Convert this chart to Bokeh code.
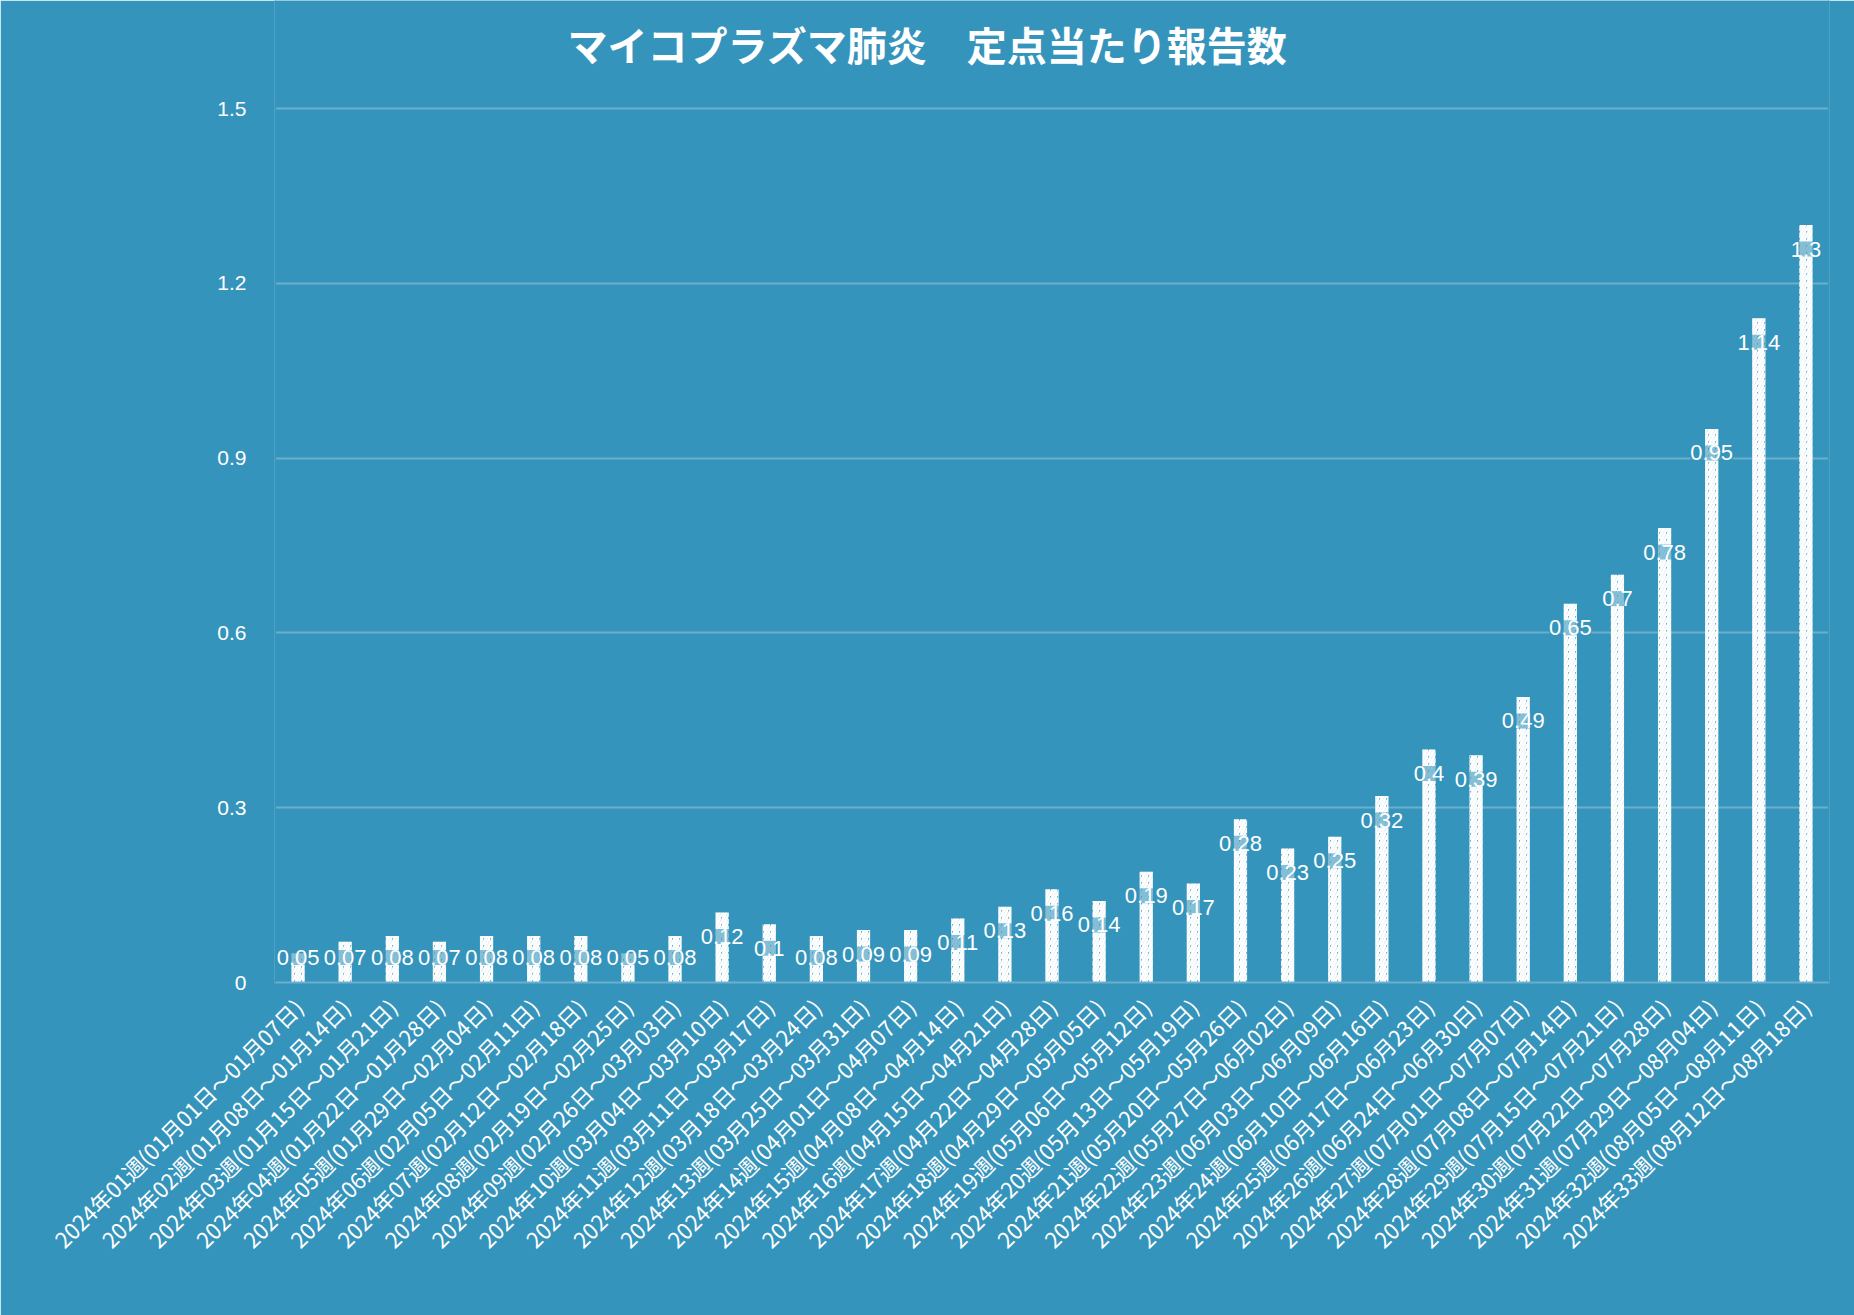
import math
from bokeh.plotting import figure
from bokeh.models import ColumnDataSource, LabelSet, Label, FixedTicker, Range1d, Span
from bokeh.core.properties import value
from bokeh.embed import file_html
from bokeh.resources import INLINE

weeks = [f"{i:02d}" for i in range(1, 34)]
starts = ["01月01日", "01月08日", "01月15日", "01月22日", "01月29日", "02月05日", "02月12日",
          "02月19日", "02月26日", "03月04日", "03月11日", "03月18日", "03月25日", "04月01日",
          "04月08日", "04月15日", "04月22日", "04月29日", "05月06日", "05月13日", "05月20日",
          "05月27日", "06月03日", "06月10日", "06月17日", "06月24日", "07月01日", "07月08日",
          "07月15日", "07月22日", "07月29日", "08月05日", "08月12日"]
ends = ["01月07日", "01月14日", "01月21日", "01月28日", "02月04日", "02月11日", "02月18日",
        "02月25日", "03月03日", "03月10日", "03月17日", "03月24日", "03月31日", "04月07日",
        "04月14日", "04月21日", "04月28日", "05月05日", "05月12日", "05月19日", "05月26日",
        "06月02日", "06月09日", "06月16日", "06月23日", "06月30日", "07月07日", "07月14日",
        "07月21日", "07月28日", "08月04日", "08月11日", "08月18日"]
categories = [f"2024年{w}週({s}～{e})" for w, s, e in zip(weeks, starts, ends)]
values = [0.05, 0.07, 0.08, 0.07, 0.08, 0.08, 0.08, 0.05, 0.08, 0.12, 0.1, 0.08, 0.09,
          0.09, 0.11, 0.13, 0.16, 0.14, 0.19, 0.17, 0.28, 0.23, 0.25, 0.32, 0.4, 0.39,
          0.49, 0.65, 0.7, 0.78, 0.95, 1.14, 1.3]
value_labels = [f"{v:g}" for v in values]
y_ticks = [0, 0.3, 0.6, 0.9, 1.2, 1.5]
title_text = "マイコプラズマ肺炎　定点当たり報告数"

BG = "#3594BB"
GRID = "#6AAFCB"
W, H = 1854, 1315
LEFT, RIGHT, BOTTOM = 274, 25, 333
AXIS_TOP_PX = 108          # pixel row of the 1.5 gridline
Y_MAX = 1.5
frame_h = H - BOTTOM
y_end = Y_MAX * frame_h / (frame_h - AXIS_TOP_PX)   # frame extends to top of the canvas
title_y = Y_MAX * (frame_h - 43) / (frame_h - AXIS_TOP_PX)

# "inside end" data labels: anchored at the bar top, but never lower than near the axis
LABEL_FLOOR = 0.084
label_anchor = [max(v, LABEL_FLOOR) for v in values]

src = ColumnDataSource(dict(cat=categories, val=values, lab=value_labels, laby=label_anchor))

p = figure(x_range=categories, width=W, height=H, output_backend="svg",
           toolbar_location=None, min_border_left=LEFT, min_border_right=RIGHT,
           min_border_top=0, min_border_bottom=BOTTOM)
p.y_range = Range1d(0, y_end)
p.background_fill_color = BG
p.border_fill_color = BG
p.outline_line_color = None

# hide the hairline seam between frame and border
for loc in (0, len(categories)):
    p.add_layout(Span(location=loc, dimension="height", line_color=BG, line_width=3))

p.vbar(x="cat", top="val", width=0.28, source=src, fill_color="white", fill_alpha=0.25,
       line_color=None, hatch_pattern="/", hatch_color="white", hatch_scale=7,
       hatch_weight=3, hatch_alpha=1.0)

label_kwargs = dict(x="cat", y="laby", text="lab", source=src, y_offset=-24,
                    text_align="center", text_baseline="middle", text_color="white",
                    text_font=value("Liberation Sans"), text_font_size="22px",
                    background_fill_color=BG, background_fill_alpha=0.6)
if "padding" in LabelSet.properties():
    label_kwargs["padding"] = 6
labels = LabelSet(**label_kwargs)
p.add_layout(labels)

title = Label(x=W / 2 - LEFT, y=title_y, x_units="screen", y_units="data",
              text=title_text, text_align="center", text_baseline="middle",
              text_color="white", text_font="Noto Sans CJK JP",
              text_font_size="40px", text_font_style="bold")
p.add_layout(title)

p.xgrid.grid_line_color = None
p.ygrid.grid_line_color = GRID
p.ygrid.grid_line_width = 2
p.yaxis.ticker = FixedTicker(ticks=y_ticks)
p.yaxis.axis_line_color = None
p.yaxis.major_tick_line_color = None
p.yaxis.minor_tick_line_color = None
p.yaxis.major_label_text_color = "white"
p.yaxis.major_label_text_font = "Liberation Sans"
p.yaxis.major_label_text_font_size = "21px"
p.yaxis.major_label_standoff = 22
p.yaxis.major_label_overrides = {0: "0", 0.3: "0.3", 0.6: "0.6", 0.9: "0.9", 1.2: "1.2", 1.5: "1.5"}

p.xaxis.axis_line_color = GRID
p.xaxis.axis_line_width = 2
p.xaxis.major_tick_line_color = None
p.xaxis.minor_tick_line_color = None
p.xaxis.major_label_orientation = math.pi / 4
p.xaxis.major_label_text_color = "white"
p.xaxis.major_label_text_font = "Noto Sans CJK JP"
p.xaxis.major_label_text_font_size = "22px"
p.xaxis.major_label_standoff = 14
p.x_range.range_padding = 0

html = file_html(p, INLINE)
html = html.replace("<body>", f'<body style="margin:0;background:{BG};">', 1)
open("out.html", "w").write(html)
